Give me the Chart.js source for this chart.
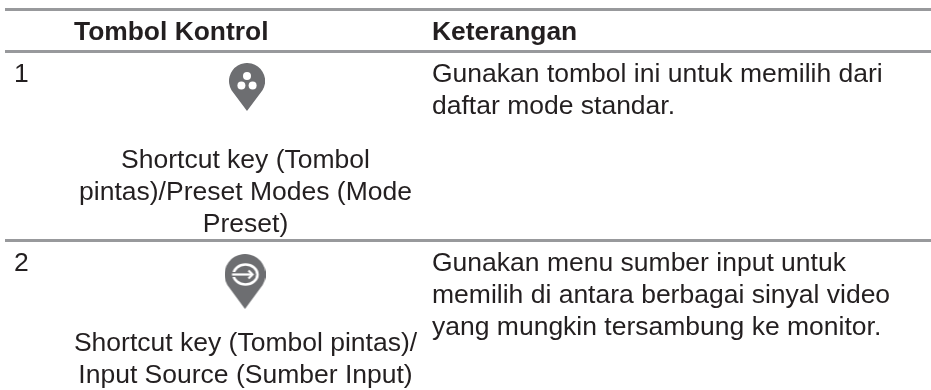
<!DOCTYPE html>
<html>
<head>
<meta charset="utf-8">
<style>
html,body{margin:0;padding:0;background:#fff;}
canvas{display:block;}
</style>
<script src="https://cdn.jsdelivr.net/npm/chart.js@4"></script>
</head>
<body>
<canvas id="c" width="931" height="390"></canvas>
<script>
const ruleRows = [9.5, 51.5, 240.5];
const ruleStart = 5;
const ruleEnd = 931;
const headerLabels = ["Tombol Kontrol", "Keterangan"];
const headerXs = [74, 432];
const headerBaseline = 40;
const rowNumbers = ["1", "2"];
const rowNumberX = 14;
const rowNumberBaselines = [82, 271];
const shortcutLines = ["Shortcut key (Tombol", "pintas)/Preset Modes (Mode", "Preset)", "Shortcut key (Tombol pintas)/", "Input Source (Sumber Input)"];
const shortcutBaselines = [168, 200, 232, 351, 383];
const shortcutCenterX = 245.5;
const descLines = ["Gunakan tombol ini untuk memilih dari", "daftar mode standar.", "Gunakan menu sumber input untuk", "memilih di antara berbagai sinyal video", "yang mungkin tersambung ke monitor."];
const descBaselines = [82, 114, 271, 303, 335];
const descX = 432;
const iconXs = [247, 245];
const iconYs = [87, 281.5];

const ink = "#231f20", pinGrey = "#6d6e71";
function pin(w, h, draw) {
  const cv = document.createElement("canvas");
  cv.width = w; cv.height = h;
  const g = cv.getContext("2d");
  const r = w / 2;
  g.fillStyle = pinGrey;
  g.beginPath();
  g.arc(r, r, r, Math.PI * 0.83, Math.PI * 0.17);
  g.lineTo(r, h);
  g.closePath();
  g.fill();
  g.fillStyle = "#fff"; g.strokeStyle = "#fff";
  draw(g, r);
  return cv;
}
const presetIcon = pin(36, 48, (g) => {
  [[18, 13], [12.4, 22.4], [23.6, 22.4]].forEach(([x, y]) => {
    g.beginPath(); g.arc(x, y, 4, 0, Math.PI * 2); g.fill();
  });
});
const inputIcon = pin(41, 55, (g) => {
  g.lineWidth = 2.6;
  g.beginPath(); g.ellipse(21, 20.5, 12, 10, 0, 0, Math.PI * 2); g.stroke();
  g.fillStyle = pinGrey;
  g.fillRect(5, 18, 8, 5);
  g.lineWidth = 2.2;
  g.beginPath(); g.moveTo(7.5, 20.5); g.lineTo(28, 20.5); g.stroke();
  g.beginPath(); g.moveTo(24, 16.5); g.lineTo(28, 20.5); g.lineTo(24, 24.5); g.stroke();
});

const textPlugin = {
  id: "tableText",
  afterDatasetsDraw(chart) {
    const { ctx, scales: { x, y } } = chart;
    const put = (s, px, py, font, align) => {
      ctx.font = font; ctx.textAlign = align; ctx.textBaseline = "alphabetic";
      ctx.fillStyle = ink;
      ctx.fillText(s, x.getPixelForValue(px), y.getPixelForValue(py));
    };
    const bold = 'bold 26.4px "Liberation Sans"', reg = '26.5px "Liberation Sans"';
    ctx.save();
    headerLabels.forEach((s, i) => put(s, headerXs[i], headerBaseline, bold, "left"));
    rowNumbers.forEach((s, i) => put(s, rowNumberX, rowNumberBaselines[i], reg, "left"));
    shortcutLines.forEach((s, i) => put(s, shortcutCenterX, shortcutBaselines[i], reg, "center"));
    descLines.forEach((s, i) => put(s, descX, descBaselines[i], reg, "left"));
    ctx.restore();
  }
};

const ruleSets = ruleRows.map((r) => ({
  type: "line",
  data: [{ x: ruleStart, y: r }, { x: ruleEnd, y: r }],
  borderColor: "#98999c",
  borderWidth: 3,
  pointRadius: 0,
  clip: false
}));
const iconSet = {
  type: "scatter",
  data: iconXs.map((v, i) => ({ x: v, y: iconYs[i] })),
  pointStyle: [presetIcon, inputIcon],
  pointRadius: 10,
  clip: false
};

new Chart(document.getElementById("c"), {
  type: "scatter",
  data: { datasets: [...ruleSets, iconSet] },
  options: {
    responsive: false,
    animation: false,
    events: [],
    layout: { padding: 0, autoPadding: false },
    plugins: { legend: { display: false }, tooltip: { enabled: false }, title: { display: false } },
    scales: {
      x: { type: "linear", min: 0, max: 931, display: false },
      y: { type: "linear", min: 0, max: 390, reverse: true, display: false }
    }
  },
  plugins: [textPlugin]
});
</script>
</body>
</html>
